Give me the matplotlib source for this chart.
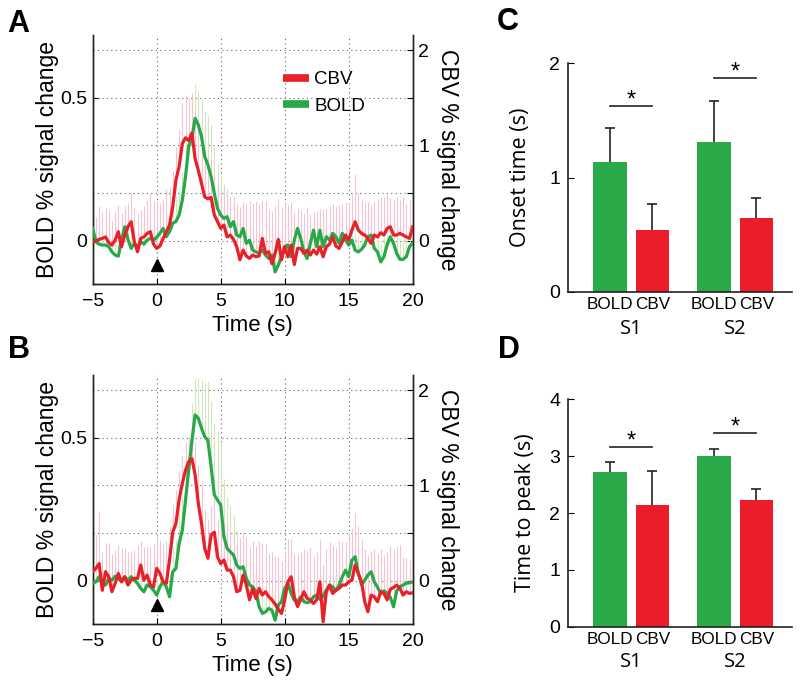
import numpy as np
import matplotlib
matplotlib.use("Agg")
import matplotlib.pyplot as plt

plt.rcParams['font.family'] = ['Liberation Sans', 'DejaVu Sans']

# ---------------- data ----------------
t_start, t_step, n_samples = -5.0, 0.25, 101
stim_time = 0.0

boldA = [0.043, -0.004, -0.012, -0.015, -0.015, -0.021, -0.039, -0.050, -0.054, 0.002,
         0.049, 0.005, -0.027, -0.009, -0.021, -0.004, -0.012, 0.002, 0.008, 0.002,
         0.012, 0.026, 0.043, 0.014, 0.032, 0.061, 0.067, 0.090, 0.142, 0.224,
         0.330, 0.360, 0.428, 0.405, 0.364, 0.294, 0.265, 0.224, 0.166, 0.113,
         0.090, 0.078, 0.084, 0.049, 0.067, 0.020, 0.014, 0.043, -0.009, 0.002,
         -0.033, -0.039, -0.044, -0.033, -0.050, -0.062, -0.050, -0.109, -0.085, -0.056,
         -0.021, -0.015, -0.056, 0.002, 0.043, 0.008, -0.039, -0.062, -0.009, 0.037,
         -0.021, 0.037, -0.021, 0.014, 0.002, 0.026, 0.014, -0.009, 0.026, 0.002,
         -0.015, 0.002, -0.033, -0.039, -0.030, -0.015, 0.014, 0.020, -0.027, -0.039,
         -0.074, -0.056, -0.015, 0.014, -0.009, -0.044, -0.065, -0.065, -0.056, -0.021,
         -0.009]
boldA_err = [0.05, 0.06, 0.05, 0.07, 0.06, 0.05, 0.06, 0.07, 0.06, 0.05,
             0.06, 0.05, 0.07, 0.06, 0.05, 0.06, 0.07, 0.06, 0.05, 0.06,
             0.06, 0.07, 0.06, 0.07, 0.08, 0.08, 0.09, 0.10, 0.10, 0.12,
             0.13, 0.14, 0.12, 0.12, 0.13, 0.16, 0.17, 0.18, 0.17, 0.16,
             0.14, 0.12, 0.10, 0.10, 0.09, 0.09, 0.08, 0.08, 0.07, 0.07,
             0.07, 0.06, 0.07, 0.06, 0.07, 0.06, 0.07, 0.06, 0.06, 0.07,
             0.06, 0.07, 0.06, 0.06, 0.07, 0.06, 0.06, 0.07, 0.06, 0.06,
             0.06, 0.07, 0.06, 0.06, 0.07, 0.06, 0.06, 0.07, 0.06, 0.06,
             0.06, 0.07, 0.06, 0.06, 0.07, 0.06, 0.06, 0.07, 0.06, 0.06,
             0.06, 0.07, 0.06, 0.06, 0.07, 0.06, 0.06, 0.07, 0.06, 0.06,
             0.06]
cbvA = [-0.010, 0.000, 0.014, 0.025, 0.040, -0.020, -0.045, 0.007, 0.095, -0.063,
        0.060, 0.147, 0.200, -0.010, -0.115, 0.025, 0.040, 0.077, 0.095, -0.035,
        -0.080, -0.056, 0.025, 0.095, 0.165, 0.357, 0.637, 0.777, 1.020, 1.080,
        1.050, 1.130, 0.860, 0.740, 0.600, 0.460, 0.440, 0.455, 0.270, 0.200,
        0.130, 0.165, 0.040, 0.060, 0.014, -0.063, -0.200, -0.098, -0.160, -0.185,
        -0.150, -0.168, -0.160, 0.025, -0.133, -0.115, -0.240, -0.133, 0.014, -0.200,
        -0.063, -0.168, -0.045, -0.250, -0.080, -0.080, -0.133, -0.098, -0.150, -0.098,
        -0.140, -0.063, -0.168, -0.063, -0.035, 0.040, -0.056, -0.080, -0.010, 0.060,
        0.007, 0.112, 0.200, 0.112, 0.077, 0.060, 0.025, -0.028, 0.060, 0.040,
        0.084, 0.060, 0.130, 0.147, 0.060, 0.060, 0.077, 0.060, 0.040, 0.025,
        0.147]
cbvA_err = [0.30, 0.25, 0.35, 0.28, 0.30, 0.33, 0.25, 0.30, 0.28, 0.35,
            0.30, 0.25, 0.30, 0.35, 0.40, 0.30, 0.32, 0.35, 0.40, 0.45,
            0.50, 0.45, 0.40, 0.45, 0.40, 0.38, 0.35, 0.40, 0.42, 0.45,
            0.45, 0.42, 0.50, 0.55, 0.55, 0.50, 0.45, 0.40, 0.42, 0.40,
            0.40, 0.42, 0.45, 0.40, 0.45, 0.45, 0.55, 0.50, 0.55, 0.60,
            0.55, 0.58, 0.55, 0.40, 0.55, 0.45, 0.55, 0.50, 0.42, 0.55,
            0.45, 0.55, 0.45, 0.55, 0.40, 0.40, 0.42, 0.45, 0.43, 0.40,
            0.45, 0.40, 0.50, 0.40, 0.40, 0.35, 0.42, 0.45, 0.40, 0.35,
            0.40, 0.40, 0.50, 0.40, 0.35, 0.35, 0.38, 0.40, 0.35, 0.40,
            0.38, 0.40, 0.35, 0.30, 0.38, 0.40, 0.35, 0.40, 0.35, 0.40,
            0.30]

boldB = [-0.009, -0.004, 0.014, -0.009, -0.015, 0.008, 0.002, 0.016, 0.008, -0.004,
         0.014, 0.002, 0.014, 0.002, -0.009, -0.027, -0.039, -0.015, -0.021, -0.033,
         -0.050, -0.021, -0.004, -0.021, -0.056, 0.031, 0.043, 0.130, 0.177, 0.282,
         0.387, 0.490, 0.580, 0.568, 0.533, 0.504, 0.490, 0.398, 0.300, 0.282,
         0.265, 0.154, 0.113, 0.101, 0.090, 0.055, 0.043, 0.049, 0.008, -0.015,
         -0.021, -0.039, -0.091, -0.114, -0.109, -0.097, -0.103, -0.138, -0.085, -0.073,
         -0.027, -0.009, -0.044, -0.068, -0.073, -0.056, -0.073, -0.077, -0.073, -0.056,
         -0.050, -0.065, -0.054, -0.033, -0.015, -0.021, -0.035, -0.015, 0.014, 0.037,
         0.014, 0.072, 0.084, 0.026, -0.015, 0.002, 0.020, 0.031, -0.004, -0.023,
         -0.044, -0.035, -0.044, -0.058, -0.091, -0.035, -0.021, -0.015, -0.009, -0.007,
         -0.004]
boldB_err = [0.06, 0.07, 0.06, 0.06, 0.07, 0.06, 0.06, 0.07, 0.06, 0.06,
             0.06, 0.07, 0.06, 0.06, 0.07, 0.06, 0.06, 0.07, 0.06, 0.06,
             0.06, 0.07, 0.07, 0.08, 0.08, 0.09, 0.10, 0.11, 0.12, 0.12,
             0.12, 0.13, 0.13, 0.14, 0.17, 0.19, 0.21, 0.23, 0.25, 0.24,
             0.22, 0.20, 0.18, 0.16, 0.14, 0.12, 0.10, 0.09, 0.08, 0.08,
             0.07, 0.06, 0.07, 0.06, 0.07, 0.06, 0.07, 0.06, 0.06, 0.07,
             0.06, 0.07, 0.06, 0.06, 0.07, 0.06, 0.06, 0.07, 0.06, 0.06,
             0.06, 0.07, 0.06, 0.06, 0.07, 0.06, 0.06, 0.07, 0.06, 0.06,
             0.06, 0.07, 0.06, 0.06, 0.07, 0.06, 0.06, 0.07, 0.06, 0.06,
             0.06, 0.07, 0.06, 0.06, 0.07, 0.06, 0.06, 0.07, 0.06, 0.06,
             0.06]
cbvB = [0.095, 0.130, 0.180, -0.100, 0.095, 0.042, -0.115, -0.028, 0.077, -0.010,
        0.042, -0.045, 0.007, 0.025, 0.025, 0.165, 0.007, 0.060, -0.045, -0.063,
        0.130, 0.077, -0.010, -0.028, 0.217, 0.510, 0.600, 0.850, 1.020, 1.160,
        1.250, 1.280, 1.110, 0.810, 0.600, 0.340, 0.235, 0.480, 0.510, 0.250,
        0.180, 0.217, 0.112, 0.112, 0.042, -0.115, -0.100, 0.060, -0.045, -0.200,
        -0.080, -0.185, -0.080, -0.150, -0.115, -0.168, -0.200, -0.245, -0.300, -0.343,
        -0.200, -0.010, 0.042, -0.168, -0.270, -0.196, -0.115, -0.185, -0.200, -0.238,
        -0.200, -0.010, -0.430, -0.115, -0.045, -0.133, -0.098, -0.080, -0.045, -0.045,
        -0.010, 0.007, 0.165, 0.077, -0.010, -0.220, -0.325, -0.150, -0.168, -0.220,
        -0.115, -0.133, -0.200, -0.090, -0.070, -0.045, -0.080, -0.150, -0.115, -0.133,
        -0.126]
cbvB_err = [0.30, 0.35, 0.55, 0.40, 0.30, 0.35, 0.40, 0.35, 0.30, 0.35,
            0.30, 0.35, 0.30, 0.30, 0.35, 0.25, 0.35, 0.30, 0.40, 0.45,
            0.35, 0.35, 0.40, 0.45, 0.35, 0.30, 0.35, 0.30, 0.30, 0.30,
            0.25, 0.30, 0.35, 0.40, 0.45, 0.40, 0.40, 0.30, 0.35, 0.40,
            0.45, 0.40, 0.45, 0.40, 0.45, 0.50, 0.55, 0.45, 0.50, 0.55,
            0.50, 0.55, 0.50, 0.55, 0.50, 0.45, 0.50, 0.50, 0.55, 0.55,
            0.50, 0.45, 0.40, 0.45, 0.55, 0.50, 0.45, 0.50, 0.55, 0.50,
            0.50, 0.45, 0.60, 0.45, 0.45, 0.50, 0.45, 0.50, 0.45, 0.45,
            0.50, 0.55, 0.55, 0.50, 0.45, 0.55, 0.60, 0.45, 0.50, 0.50,
            0.45, 0.40, 0.50, 0.45, 0.40, 0.40, 0.45, 0.40, 0.35, 0.35,
            0.40]

subjects = ['S1', 'S2']
modalities = ['BOLD', 'CBV']
onset_bold = [1.14, 1.31]
onset_bold_err = [0.29, 0.36]
onset_cbv = [0.54, 0.645]
onset_cbv_err = [0.23, 0.175]
onset_sig = [1.623, 1.871]

peak_bold = [2.716, 3.01]
peak_bold_err = [0.18, 0.12]
peak_cbv = [2.14, 2.235]
peak_cbv_err = [0.59, 0.19]
peak_sig = [3.161, 3.408]

# ---------------- style ----------------
RED = '#E8202A'
GREEN = '#28A847'
PINK = '#F5C4D2'
LGREEN = '#D3E7BF'
BAR_GREEN = '#2BAA4A'
BAR_RED = '#EC1C2A'
GRID = dict(color='#666666', linestyle=(0, (1, 3)), linewidth=0.8)

time = t_start + t_step * np.arange(n_samples)

fig = plt.figure(figsize=(8, 6.83), dpi=100)


def timecourse(ax, bold, bold_err, cbv, cbv_err, legend=False):
    bold = np.asarray(bold); bold_err = np.asarray(bold_err)
    cbv = np.asarray(cbv); cbv_err = np.asarray(cbv_err)
    ax.set_xlim(-5, 20)
    ax.set_ylim(-0.1524, 0.7192)
    ax2 = ax.twinx()
    ax2.set_ylim(-0.457, 2.158)
    ax.set_autoscale_on(False)
    ax2.set_autoscale_on(False)

    ax.set_xticks([-5, 0, 5, 10, 15, 20])
    ax.set_xticklabels(['\u22125', '0', '5', '10', '15', '20'])
    ax.grid(axis='x', **GRID)
    ax.set_yticks([0, 0.5])
    ax.set_yticklabels(['0', '0.5'])
    ax2.set_yticks([0, 0.5, 1, 1.5, 2])
    ax2.set_yticklabels(['0', '', '1', '', '2'])
    ax2.grid(axis='y', **GRID)
    ax2.set_axisbelow(True)

    ax2.vlines(time, bold, bold + bold_err, transform=ax.transData,
               color=LGREEN, lw=0.8, zorder=1)
    ax2.vlines(time, cbv, cbv + cbv_err, color=PINK, lw=0.8, zorder=1.1)
    lb, = ax2.plot(time, bold, transform=ax.transData, color=GREEN, lw=2.3,
                   zorder=3, label='BOLD')
    lc, = ax2.plot(time, cbv, color=RED, lw=2.3, zorder=4, label='CBV')
    ax2.plot([stim_time], [0.077], transform=ax.get_xaxis_transform(),
             marker='^', ms=8, color='black', linestyle='none', zorder=5)

    ax.set_xlim(-5, 20)
    ax.set_ylim(-0.1524, 0.7192)
    ax2.set_ylim(-0.457, 2.158)

    for a in (ax, ax2):
        a.spines['top'].set_visible(False)
        for s in a.spines.values():
            s.set_linewidth(1.0)
            s.set_color('#222222')
    ax.tick_params(axis='x', direction='in', length=4, labelsize=14, pad=6)
    ax.tick_params(axis='y', direction='in', length=4, labelsize=14, pad=4)
    ax2.tick_params(axis='y', direction='in', length=4, labelsize=14, pad=4)

    ax.set_xlabel('Time (s)', fontsize=16, labelpad=4)
    ax.set_ylabel('BOLD % signal change', fontsize=16.5, va='center')
    ax.yaxis.set_label_coords(-0.141, 0.5)
    ax2.set_ylabel('CBV % signal change', fontsize=16.5, rotation=-90, va='center')
    ax2.yaxis.set_label_coords(1.109, 0.5)

    if legend:
        leg = ax2.legend([lc, lb], ['CBV', 'BOLD'], loc='upper left',
                         bbox_to_anchor=(0.595, 0.855), frameon=False,
                         fontsize=13.5, handlelength=1.4, handletextpad=0.25,
                         labelspacing=0.5, borderpad=0, borderaxespad=0)
        for ln in leg.get_lines():
            ln.set_linewidth(5.5)
            ln.set_solid_capstyle('butt')


def barpanel(ax, bold, bold_err, cbv, cbv_err, sig, ymax, yticks, ylabel, lab_x):
    x = np.arange(len(subjects)) + 1.0
    off, w = 0.204, 0.322
    ax.bar(x - off, bold, w, color=BAR_GREEN, zorder=2)
    ax.bar(x + off, cbv, w, color=BAR_RED, zorder=2)
    for xs, vals, errs in ((x - off, bold, bold_err), (x + off, cbv, cbv_err)):
        _, caps, _ = ax.errorbar(xs, vals, yerr=[np.zeros(len(vals)), errs], fmt='none',
                                 ecolor='#222222', elinewidth=1.2, capsize=3.6,
                                 capthick=1.2, zorder=1)
        caps[0].set_visible(False)
    for xi, s in zip(x, sig):
        ax.plot([xi - off, xi + off], [s, s], color='#222222', lw=1.2)
        ax.annotate('*', xy=(xi, s), xytext=(0, -4), textcoords='offset points',
                    ha='center', va='bottom', fontsize=17)
    ax.set_xlim(0.389, 2.543)
    ax.set_ylim(0, ymax)
    ax.set_yticks(yticks)
    ticks = np.concatenate([[xi - off, xi + off] for xi in x])
    ax.set_xticks(ticks)
    ax.set_xticklabels(modalities * len(subjects), fontsize=12.3)
    ax.tick_params(axis='x', length=0, pad=4)
    ax.tick_params(axis='y', direction='in', length=4, labelsize=14, pad=5.5)
    for xi, s in zip(x, subjects):
        ax.text(xi, lab_x, s, transform=ax.get_xaxis_transform(), ha='center',
                va='center', fontsize=14.5, family=['Open Sans', 'DejaVu Sans'])
    ax.spines['top'].set_visible(False)
    ax.spines['right'].set_visible(False)
    for s in ('left', 'bottom'):
        ax.spines[s].set_linewidth(1.2)
        ax.spines[s].set_color('#222222')
    ax.set_ylabel(ylabel, fontsize=15.5, family=['Open Sans', 'DejaVu Sans'], va='center')


axA = fig.add_axes([0.1159, 0.5837, 0.4, 0.365])
axB = fig.add_axes([0.1159, 0.0859, 0.4, 0.365])
axC = fig.add_axes([0.7096, 0.5729, 0.28, 0.3344])
axD = fig.add_axes([0.7096, 0.0824, 0.28, 0.333])

timecourse(axA, boldA, boldA_err, cbvA, cbvA_err, legend=True)
timecourse(axB, boldB, boldB_err, cbvB, cbvB_err)

barpanel(axC, onset_bold, onset_bold_err, onset_cbv, onset_cbv_err, onset_sig,
         2, [0, 1, 2], 'Onset time (s)', -0.162)
axC.yaxis.set_label_coords(-0.209, 0.5)
barpanel(axD, peak_bold, peak_bold_err, peak_cbv, peak_cbv_err, peak_sig,
         4, [0, 1, 2, 3, 4], 'Time to peak (s)', -0.157)
axD.yaxis.set_label_coords(-0.187, 0.5)

for letter, px, py in [('A', 7, 31.7), ('B', 8, 358.3), ('C', 497, 30), ('D', 498, 358.3)]:
    fig.text(px / 800, 1 - py / 683, letter, fontsize=22, fontweight='bold',
             ha='left', va='baseline')

fig.savefig('out.png', dpi=100)
